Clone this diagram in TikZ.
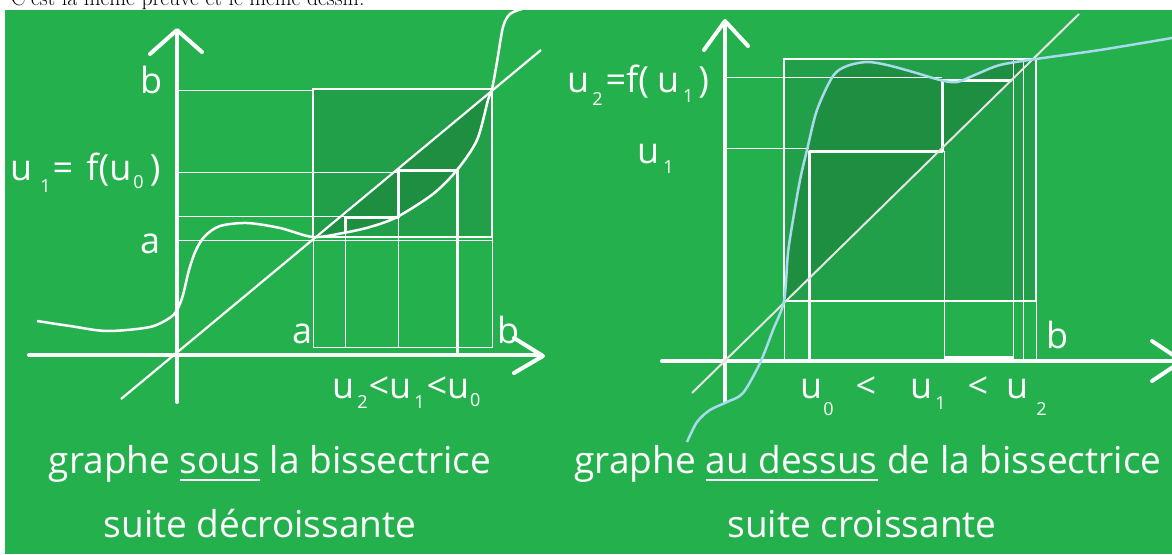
\documentclass[tikz,border=0pt]{standalone}
\usepackage{fontspec}
\newfontfamily\hand{Open Sans}
\definecolor{bg}{HTML}{24B14D}
\definecolor{mid}{HTML}{22A049}
\definecolor{dark}{HTML}{1E8E40}
\definecolor{bluec}{HTML}{A9D9EC}
\definecolor{bisgrey}{HTML}{E4E4E4}
% subscript: #1 = drop below baseline, #2 = digit
\newcommand\sbx[2][11pt]{\raisebox{-#1}{\fontsize{18}{18}\selectfont #2}}
\newcommand\myul[1]{\setbox0\hbox{#1}\rlap{\rule[-8pt]{\wd0}{2pt}}\box0\relax}
\begin{document}
\begin{tikzpicture}[x=1pt,y=-1pt,
  thickw/.style={white,line width=3pt,line join=round},
  thinw/.style={white,line width=0.9pt},
  boxw/.style={white,line width=2.5pt},
  axisw/.style={white,line width=4pt,line cap=round,line join=round},
  lab/.style={text=white,font=\hand\fontsize{36}{36}\selectfont,inner sep=0pt},
  capt/.style={text=white,font=\hand\fontsize{37}{37}\selectfont,inner sep=0pt}]
\useasboundingbox (0,0) rectangle (1172,554);
\clip (0,0) rectangle (1172,554);
\node[anchor=base west,inner sep=0pt,font=\fontsize{21.7}{22}\selectfont] (title) at (11,5.5) {C'est la même preuve et le même dessin.};
\fill[bg] (5,10) rectangle (1172,554);
% ---------- left panel ----------
\fill[mid] (313,89) rectangle (492,237);
\fill[dark] plot[smooth] coordinates {(313,237) (343,233) (370,227) (397,217) (433,194) (457,170) (477,140) (488,100) (492,89)} -- cycle;
\draw[thinw] (178,90) -- (313,90);
\draw[thinw] (178,172) -- (398,172);
\draw[thinw] (178,216) -- (345,216);
\draw[thinw] (178,240) -- (492,240);
\draw[thinw] (313,237) -- (313,347) -- (492,347) -- (492,237);
\draw[thinw] (345,233) -- (345,347);
\draw[thinw] (398,217) -- (398,347);
\draw[boxw] (313,89) rectangle (492,237);
\draw[thickw] (457,354) -- (457,170) -- (398,170) -- (398,217) -- (345,217) -- (345,233);
\draw[axisw] (177,402) -- (177,32);
\draw[axisw] (150,54) -- (177,30) -- (202,52);
\draw[axisw] (29,355) -- (541,355);
\draw[axisw] (514,338) -- (543,356) -- (514,373);
\draw[white,line width=2.2pt] (121,399) -- (541,50);
\draw[white,line width=2.5pt] plot[smooth] coordinates {(37,321) (70,326) (107,331) (150,327) (171,317) (178,308) (183,295) (189,270) (196,250) (205,236) (220,226) (247,223) (280,228) (313,237) (343,233) (370,227) (397,217) (433,194) (457,170) (477,140) (488,100) (492,89) (497,62) (503,27) (510,14) (522,9)};
\node[lab,anchor=base west] (lb) at (140,93) {b};
\node[lab,anchor=base west] (la) at (140,253) {a};
\node[lab,anchor=base west] (lu1) at (10,180) {u\hspace{8pt}\sbx[12pt]{1}\hspace{2pt}= \hspace{4pt}f(u\hspace{2pt}\sbx[8pt]{0}\hspace{6pt})};
\node[lab,anchor=base west] (xa) at (292,343) {a};
\node[lab,anchor=base west] (xb) at (497,343) {b};
\node[lab,anchor=base west] (ord) at (332,398) {u\hspace{3pt}\sbx[10pt]{2}\hspace{1pt}<u\hspace{3pt}\sbx[10pt]{1}\hspace{2pt}<u\hspace{1pt}\sbx[8pt]{0}};
\node[capt,anchor=base] (c1) at (270,473) {graphe \myul{sous} la bissectrice};
\node[capt,anchor=base] (c2) at (260,537) {suite décroissante};
% ---------- right panel ----------
\fill[mid] (784,59) rectangle (1036,301);
\fill[dark] plot[smooth] coordinates {(784,301) (788,253) (793,220) (800,180) (807,150) (817,110) (833,76) (847,66) (867,62) (887,65) (913,72) (940,80) (957,82) (977,74) (1000,65) (1036,59)} -- cycle;
\draw[thinw] (727,77) -- (942,77);
\draw[thinw] (727,148) -- (809,148);
\draw[thinw] (784,301) -- (784,359);
\draw[thinw] (944,151) -- (944,359);
\draw[thinw] (1013,59) -- (1013,359);
\draw[thinw] (1023,59) -- (1023,359);
\draw[thinw] (1036,301) -- (1036,359);
\draw[boxw] (784,59) rectangle (1036,301);
\draw[thickw] (809,359) -- (809,151) -- (942,151) -- (942,80) -- (1012,80);
\draw[thickw] (944,357) -- (1014,357);
\draw[axisw] (725,402) -- (725,22);
\draw[axisw] (704,50) -- (725,21) -- (748,46);
\draw[axisw] (662,361) -- (1180,361);
\draw[axisw] (1152,341) -- (1182,361) -- (1152,381);
\draw[bisgrey,line width=2pt] (692,393) -- (1079,14);
\draw[bluec,line width=2.5pt] plot[smooth] coordinates {(687,442) (697,422) (710,410) (727,402) (743,393) (760,363) (773,330) (784,301) (788,253) (793,220) (800,180) (807,150) (817,110) (833,76) (847,66) (867,62) (887,65) (913,72) (940,80) (957,82) (977,74) (1000,65) (1036,59) (1100,50) (1172,38)};
\node[lab,anchor=base west] (ru2) at (567,92) {u\hspace{3pt}\sbx[13pt]{2}\hspace{3pt}=f(\hspace{8pt}u\hspace{4pt}\sbx[10pt]{1}\hspace{5pt})};
\node[lab,anchor=base west] (ru1) at (637,163) {u\hspace{4pt}\sbx[10pt]{1}};
\node[lab,anchor=base west] (rb) at (1046,348) {b};
\node[lab,anchor=base west] (rord) at (800,398) {u\hspace{1pt}\sbx[17pt]{0}\hspace{22pt}<\hspace{34pt}u\hspace{3pt}\sbx[11pt]{1}\hspace{22pt}<\hspace{18pt}u\hspace{8pt}\sbx[17pt]{2}};
\node[capt,anchor=base] (c3) at (868,473) {graphe \myul{au dessus} de la bissectrice};
\node[capt,anchor=base] (c4) at (862,537) {suite croissante};
\end{tikzpicture}
\end{document}
